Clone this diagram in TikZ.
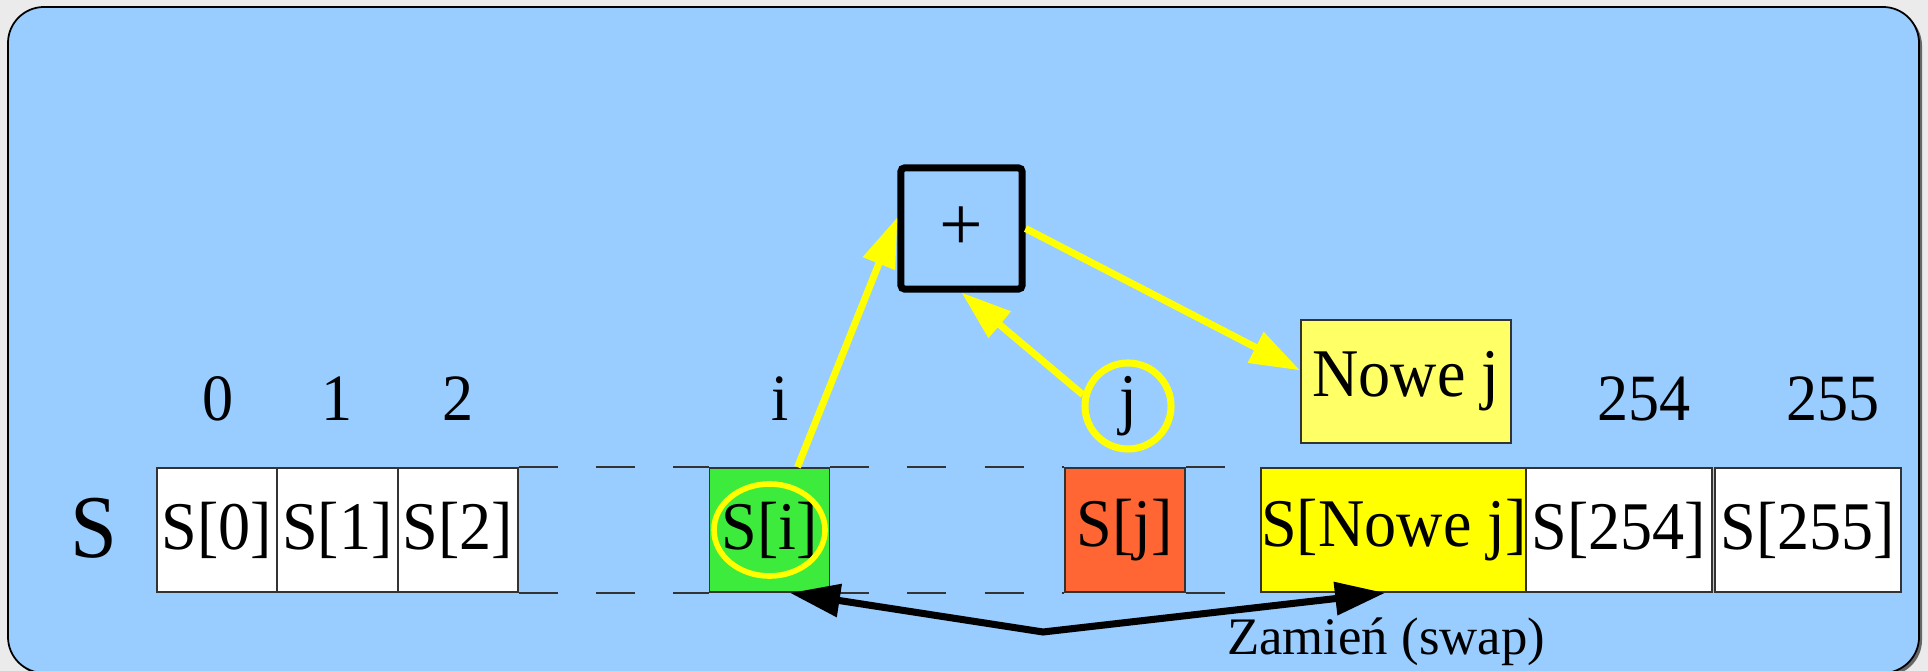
\documentclass[tikz,border=0pt]{standalone}
\usepackage{fontspec}
\setmainfont{Liberation Serif}
\newfontfamily\cellfont{Liberation Serif}[FakeStretch=0.94]
\usepackage{tikz}
\usetikzlibrary{arrows.meta, positioning, calc}
\definecolor{panelblue}{HTML}{99CCFF}
\definecolor{outergray}{HTML}{EBEBEB}
\definecolor{cellgreen}{HTML}{3DEB3D}
\definecolor{cellorange}{HTML}{FF6633}
\definecolor{markyellow}{HTML}{FFFF00}
\definecolor{paleyellow}{HTML}{FFFF66}
\definecolor{celledge}{HTML}{333333}

\begin{document}
\begin{tikzpicture}[
  x=0.01cm, y=-0.01cm,
  font=\cellfont\fontsize{19.4}{22}\selectfont,
  cell/.style={
    draw=celledge, fill=white, line width=0.5pt, inner sep=0pt,
    minimum width=1.2cm, minimum height=1.24cm
  },
  idx/.style={anchor=base, font=\cellfont\fontsize{18.8}{22}\selectfont},
  gapline/.style={draw=celledge, line width=0.5pt, dash pattern=on 0.39cm off 0.38cm},
  yarr/.style={-{Triangle[length=0.5cm, width=0.33cm]}, markyellow, line width=2pt},
  swaparr/.style={{Triangle[length=0.5cm, width=0.32cm]}-{Triangle[length=0.5cm, width=0.32cm]},
    black, line width=2pt}
]
  \useasboundingbox (0,0) rectangle (1928,671);
  \fill[outergray] (0,0) rectangle (1928,671);
  \fill[black!60, rounded corners=0.36cm] (11,10) rectangle (1922,676);
  \filldraw[fill=panelblue, draw=black, line width=0.5pt, rounded corners=0.36cm]
    (8,7) rectangle (1919,673);

  % the state array
  \node[anchor=base, font=\cellfont\fontsize{25.5}{28}\selectfont] (sname) at (94,558) {S};
  \node[cell] (c0) at (217,530) {S[0]};
  \node[cell] (c1) at (337.5,530) {S[1]};
  \node[cell] (c2) at (458,530) {S[2]};
  \node[cell, fill=cellgreen] (ci) at (769.5,530) {S[i]};
  \node[cell, fill=cellorange] (cj) at (1125,530) {S[j]};
  \node[cell, fill=markyellow, minimum width=2.64cm] (cnj) at (1394,530) {S[Nowe j]};
  \node[cell, minimum width=1.86cm] (c254) at (1619,530) {S[254]};
  \node[cell, minimum width=1.86cm] (c255) at (1808,530) {S[255]};

  \foreach \a/\b in {c2/ci, ci/cj, cj/cnj} {
    \draw[gapline] (\a.north east) -- (\b.north west);
    \draw[gapline] (\a.south east) -- (\b.south west);
  }

  % indices
  \node[idx] (i0) at (218,421) {0};
  \node[idx] (i1) at (337,421) {1};
  \node[idx] (i2) at (458,421) {2};
  \node[idx] (ii) at (780,421) {i};
  \node[idx] (i254) at (1644,421) {254};
  \node[idx] (i255) at (1833,421) {255};

  \node[circle, draw=markyellow, line width=2pt, minimum size=0.86cm, inner sep=0pt]
    (jc) at (1128,406) {j};
  \node[draw=black, line width=2pt, rounded corners=1pt, minimum size=1.21cm,
    font=\fontsize{22}{24}\selectfont] (plus) at (961.5,228.5) {+};
  \node[draw=celledge, fill=paleyellow, line width=0.5pt, inner sep=0pt,
    minimum width=2.1cm, minimum height=1.23cm] (nowe) at (1406,381.5) {Nowe j};

  \draw[markyellow, line width=1.6pt] (ci.center) ellipse [x radius=0.555cm, y radius=0.46cm];

  \draw[yarr] (ci.66) -- (plus.170);
  \draw[yarr] (jc.166) -- (plus.south);
  \draw[yarr] (plus.east) -- (nowe.174);

  % swap
  \coordinate (swapmid) at (1043,632);
  \draw[swaparr] (ci.-72) -- (swapmid) -- (cnj.-98);
  \node[anchor=base, font=\rmfamily\fontsize{15}{18}\selectfont] (swaplbl) at (1386,655) {Zamień (swap)};
\end{tikzpicture}
\end{document}
